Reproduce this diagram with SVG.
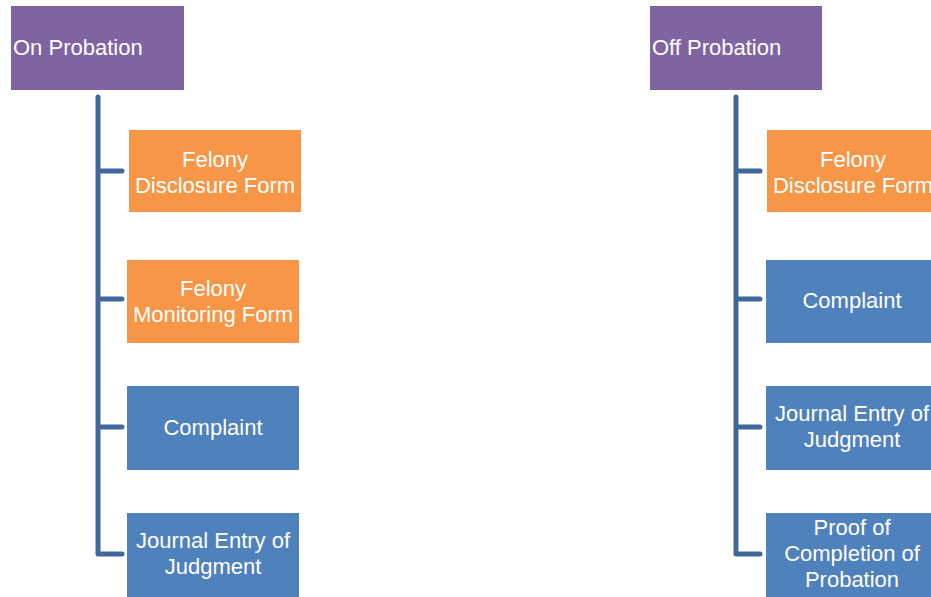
<svg xmlns="http://www.w3.org/2000/svg" width="931" height="597" viewBox="0 0 931 597">
<style>
.t{font-family:"Liberation Sans",Arial,sans-serif;font-size:22px;fill:#ffffff}
.c{text-anchor:middle}
.root{fill:#8064A2}
.org{fill:#F79646}
.blu{fill:#4F81BD}
.ln{stroke:#41689A;stroke-width:5;fill:none;stroke-linejoin:round;stroke-linecap:round}
</style>
<rect width="931" height="597" fill="#ffffff"/>
<g id="connectors">
<path class="ln" d="M98 97 V554 H122 M98 171 H122 M98 299 H122 M98 427 H122"/>
<path class="ln" d="M736 97 V554 H760 M736 171 H760 M736 299 H760 M736 427 H760"/>
</g>
<g id="on-probation"><rect class="root" x="11" y="6" width="173" height="84"/><text class="t" x="13" y="55">On Probation</text></g>
<g id="l-felony-disclosure"><rect class="org" x="129" y="130" width="172" height="82"/><text class="t c" x="215" y="167">Felony</text><text class="t c" x="215" y="193">Disclosure Form</text></g>
<g id="l-felony-monitoring"><rect class="org" x="127" y="260" width="172" height="83"/><text class="t c" x="213" y="296">Felony</text><text class="t c" x="213" y="322">Monitoring Form</text></g>
<g id="l-complaint"><rect class="blu" x="127" y="386" width="172" height="84"/><text class="t c" x="213" y="435">Complaint</text></g>
<g id="l-journal"><rect class="blu" x="127" y="513" width="172" height="84"/><text class="t c" x="213" y="548">Journal Entry of</text><text class="t c" x="213" y="574">Judgment</text></g>
<g id="off-probation"><rect class="root" x="650" y="6" width="172" height="84"/><text class="t" x="652" y="55">Off Probation</text></g>
<g id="r-felony-disclosure"><rect class="org" x="767" y="130" width="172" height="82"/><text class="t c" x="853" y="167">Felony</text><text class="t c" x="853" y="193">Disclosure Form</text></g>
<g id="r-complaint"><rect class="blu" x="766" y="260" width="172" height="83"/><text class="t c" x="852" y="308">Complaint</text></g>
<g id="r-journal"><rect class="blu" x="766" y="386" width="172" height="84"/><text class="t c" x="852" y="421">Journal Entry of</text><text class="t c" x="852" y="447">Judgment</text></g>
<g id="r-proof"><rect class="blu" x="766" y="513" width="172" height="84"/><text class="t c" x="852" y="535">Proof of</text><text class="t c" x="852" y="561">Completion of</text><text class="t c" x="852" y="587">Probation</text></g>
</svg>
